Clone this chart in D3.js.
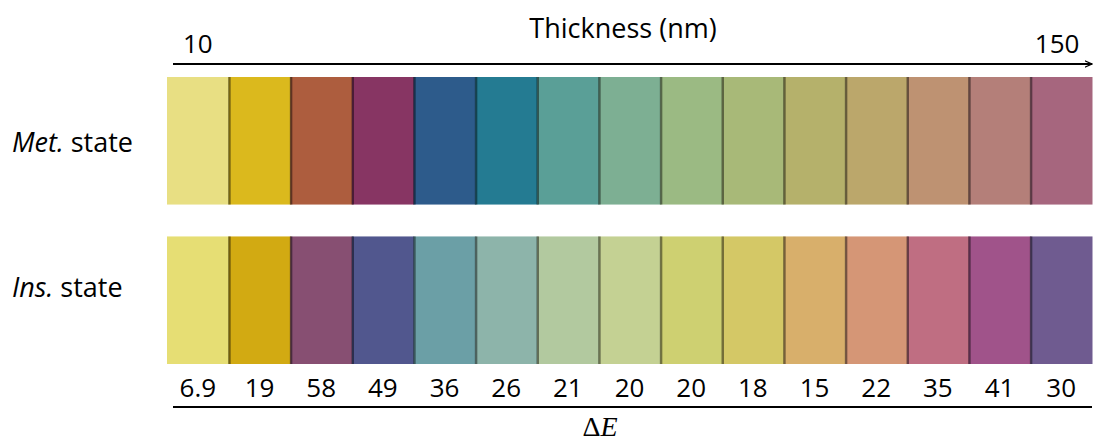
<!DOCTYPE html>
<html>
<head>
<meta charset="utf-8">
<script src="https://cdn.jsdelivr.net/npm/d3@7"></script>
<style>
	body { margin: 0; background: #fff; }
	svg { display: block; font-family: 'Open Sans', 'Noto Sans', sans-serif; }
</style>
</head>
<body>
<div id="chart"></div>
<script>
// film thickness (nm) of each swatch, left to right
var thickness = [10, 20, 30, 40, 50, 60, 70, 80, 90, 100, 110, 120, 130, 140, 150];
// colour seen in the metallic state
var metColors = ['#e8df83', '#dbb91d', '#ad5d3e', '#873563', '#2d5b8b', '#247b92', '#5a9f97', '#7daf93',
	'#9bba83', '#a8b978', '#b5b16b', '#bba76b', '#be9272', '#b47f79', '#a6667e'];
// colour seen in the insulating state
var insColors = ['#e6de74', '#d2aa12', '#874f72', '#51578e', '#6b9fa6', '#8db4aa', '#b2c99f', '#c4d193',
	'#ced071', '#d4c866', '#d8af6b', '#d59676', '#bf6e82', '#a0538a', '#6f5b90'];
// colour contrast between the two states
var deltaE = ['6.9', '19', '58', '49', '36', '26', '21', '20', '20', '18', '15', '22', '35', '41', '30'];
var rows = ['Met.', 'Ins.'];

var width = 1094,
	height = 441;

var svg = d3.select('#chart')
	.append('svg')
	.attr('width', width)
	.attr('height', height);

var x = d3.scaleBand()
	.domain(thickness)
	.range([167, 1092])
	.paddingInner(0);

var y = d3.scaleBand()
	.domain(rows)
	.range([77, 364])
	.paddingInner(0.2);

var defs = svg.append('defs');
defs.append('marker')
	.attr('id', 'arrow')
	.attr('viewBox', '0 0 10 10')
	.attr('refX', 9)
	.attr('refY', 5)
	.attr('markerWidth', 4)
	.attr('markerHeight', 4)
	.attr('orient', 'auto')
	.append('path')
	.attr('d', 'M0,1 L9,5 L0,9')
	.attr('fill', 'none')
	.attr('stroke', '#000')
	.attr('stroke-width', 1.6);

// swatch rows
var data = [metColors, insColors];
var labelShift = [11, -3];
rows.forEach(function(r, ri) {
	var g = svg.append('g').attr('class', 'row');
	g.selectAll('rect.sw')
		.data(thickness)
		.enter()
		.append('rect')
		.attr('class', 'sw')
		.attr('x', function(d) { return x(d); })
		.attr('y', y(r))
		.attr('width', x.bandwidth() + 0.5)
		.attr('height', y.bandwidth())
		.attr('fill', function(d, i) { return data[ri][i]; });

	// dark shadow line between neighbouring swatches
	g.selectAll('rect.sep')
		.data(thickness.slice(1))
		.enter()
		.append('rect')
		.attr('class', 'sep')
		.attr('x', function(d) { return x(d) - 0.5; })
		.attr('y', y(r))
		.attr('width', 2.5)
		.attr('height', y.bandwidth())
		.attr('fill', '#000')
		.attr('opacity', 0.45);

	g.append('text')
		.attr('x', 12)
		.attr('y', y(r) + y.bandwidth() / 2 + labelShift[ri])
		.attr('font-size', 27)
		.attr('fill', '#000')
		.call(function(t) {
			t.append('tspan').attr('font-style', 'italic').text(r);
			t.append('tspan').text(' state');
		});
});

// thickness axis (top)
svg.append('line')
	.attr('x1', 173)
	.attr('x2', 1092)
	.attr('y1', 64)
	.attr('y2', 64)
	.attr('stroke', '#000')
	.attr('stroke-width', 2)
	.attr('marker-end', 'url(#arrow)');

var ends = [thickness[0], thickness[thickness.length - 1]];
svg.selectAll('text.tick')
	.data(ends)
	.enter()
	.append('text')
	.attr('class', 'tick')
	.attr('x', function(d, i) { return x(d) + x.bandwidth() / 2 - (i ? 4 : 0); })
	.attr('y', 53)
	.attr('text-anchor', 'middle')
	.attr('font-size', 26)
	.text(function(d) { return d; });

svg.append('text')
	.attr('x', 623)
	.attr('y', 38)
	.attr('text-anchor', 'middle')
	.attr('font-size', 27)
	.text('Thickness (nm)');

// delta E values (bottom)
svg.selectAll('text.de')
	.data(deltaE)
	.enter()
	.append('text')
	.attr('class', 'de')
	.attr('x', function(d, i) { return x(thickness[i]) + x.bandwidth() / 2; })
	.attr('y', 397)
	.attr('text-anchor', 'middle')
	.attr('font-size', 26)
	.text(function(d) { return d; });

svg.append('line')
	.attr('x1', 173)
	.attr('x2', 1092)
	.attr('y1', 407)
	.attr('y2', 407)
	.attr('stroke', '#000')
	.attr('stroke-width', 2);

svg.append('text')
	.attr('x', 600)
	.attr('y', 436)
	.attr('text-anchor', 'middle')
	.attr('font-family', "'Liberation Serif', serif")
	.attr('font-size', 28)
	.call(function(t) {
		t.append('tspan').text('\u0394');
		t.append('tspan').attr('font-style', 'italic').text('E');
	});
</script>
</body>
</html>
